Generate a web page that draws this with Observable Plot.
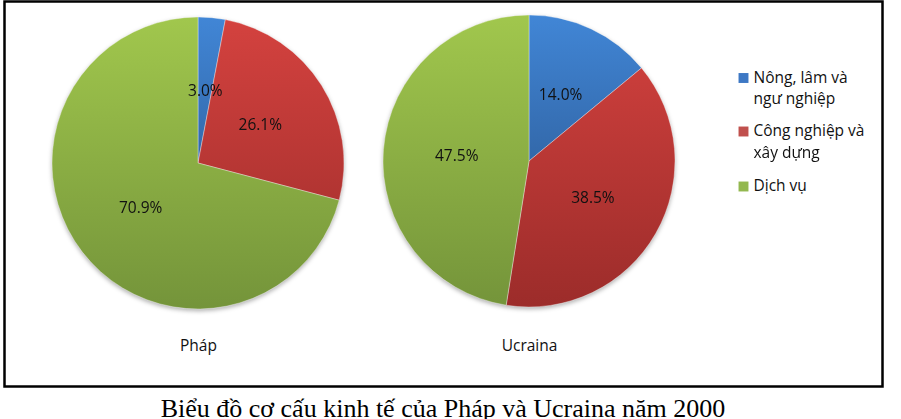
<!DOCTYPE html>
<html>
<head>
<meta charset="utf-8">
<script src="https://cdn.jsdelivr.net/npm/d3@7"></script>
<script src="https://cdn.jsdelivr.net/npm/@observablehq/plot@0.6"></script>
<style>
  html, body { margin: 0; padding: 0; background: #fff; }
  #chart svg { display: block; }
  #caption {
    width: 901px; box-sizing: border-box; padding-right: 15px;
    margin-top: 6px; text-align: center; white-space: nowrap;
    font-family: "Liberation Serif", "Times New Roman", serif;
    font-size: 26px; line-height: 26px; color: #000;
  }
</style>
</head>
<body>
<div id="chart"></div>
<div id="caption">Biểu đồ cơ cấu kinh tế của Pháp và Ucraina năm 2000</div>
<script>
// ---- data ----
const countries = ["Pháp", "Ucraina"];
const sectors = ["Nông, lâm và ngư nghiệp", "Công nghiệp và xây dựng", "Dịch vụ"];
const phapValues = [3.0, 26.1, 70.9];
const ucrainaValues = [14.0, 38.5, 47.5];
const legendLabels = [["Nông, lâm và", "ngư nghiệp"], ["Công nghiệp và", "xây dựng"], ["Dịch vụ"]];

// ---- styles / layout ----
const sectorColors = ["#3d78c4", "#c0504d", "#93b84f"];
const gradientStops = [
  ["#4186d6", "#244a7d"],
  ["#d4423f", "#9c2c2a"],
  ["#a1c74d", "#74943a"]
];
const pieCenters = [[198, 163], [529, 161]];
const pieRadius = 146;
const countryLabelY = 346;
const legendX = 743, legendTextX = 753, legendY = [77.5, 131, 186], legendLineStep = 21.5;

// ---- derived tables ----
const valuesByCountry = [phapValues, ucrainaValues];
const pie = d3.pie().sort(null).value(d => d);
const slices = [];
countries.forEach((country, ci) => {
  const arcs = pie(valuesByCountry[ci]);
  arcs.forEach((a, si) => {
    const [dx, dy] = d3.arc().innerRadius(0).outerRadius(pieRadius).centroid(a);
    slices.push({
      country, sector: sectors[si], si, value: a.data,
      startAngle: a.startAngle, endAngle: a.endAngle,
      cx: pieCenters[ci][0], cy: pieCenters[ci][1],
      lx: pieCenters[ci][0] + dx, ly: pieCenters[ci][1] + dy
    });
  });
});
const countryRows = countries.map((c, i) => ({country: c, x: pieCenters[i][0], y: countryLabelY}));
const legendItems = sectors.map((s, i) => ({sector: s, color: sectorColors[i], x: legendX, y: legendY[i]}));
const legendTextRows = legendLabels.flatMap((lines, i) =>
  lines.map((t, j) => ({text: t, x: legendTextX, y: legendY[i] + j * legendLineStep})));

function renderPie(index, scales, values) {
  const g = d3.create("svg:g").attr("style", "filter: drop-shadow(0px 2px 2px rgba(0,0,0,0.3))");
  const defs = g.append("defs");
  const R = scales.x(slices[0].cx + pieRadius) - scales.x(slices[0].cx);
  gradientStops.forEach((st, k) => {
    const lg = defs.append("linearGradient").attr("id", "grad" + k)
      .attr("gradientUnits", "userSpaceOnUse")
      .attr("x1", 0).attr("x2", 0).attr("y1", -R).attr("y2", R);
    lg.append("stop").attr("offset", "0%").attr("stop-color", st[0]);
    lg.append("stop").attr("offset", "100%").attr("stop-color", st[1]);
  });
  const arc = d3.arc().innerRadius(0).outerRadius(R);
  for (const i of index) {
    const d = slices[i];
    g.append("path")
      .attr("transform", `translate(${values.x[i]},${values.y[i]})`)
      .attr("d", arc({startAngle: d.startAngle, endAngle: d.endAngle}))
      .attr("fill", `url(#grad${d.si})`)
      .attr("stroke", "rgba(255,255,255,0.35)")
      .attr("stroke-width", 1);
  }
  return g.node();
}

const chart = Plot.plot({
  width: 901,
  height: 390,
  marginLeft: 4, marginTop: 1, marginRight: 19, marginBottom: 4,
  x: {type: "linear", domain: [0, 901], range: [0, 901], axis: null},
  y: {type: "linear", domain: [0, 390], range: [0, 390], axis: null},
  style: {fontFamily: "'Open Sans', sans-serif", background: "#fff", color: "#000"},
  marks: [
    Plot.frame({stroke: "#000", strokeWidth: 2.5}),
    Plot.dot(slices, {x: "cx", y: "cy", r: pieRadius, render: renderPie}),
    Plot.text(slices, {x: "lx", y: "ly", text: d => d.value.toFixed(1) + "%", fontSize: 15.5, fill: "#111"}),
    Plot.text(countryRows, {x: "x", y: "y", text: "country", fontSize: 15.5, fill: "#111"}),
    Plot.dot(legendItems, {x: "x", y: "y", symbol: "square", r: 5.6, fill: d => d.color}),
    Plot.text(legendTextRows, {x: "x", y: "y", text: "text", textAnchor: "start", fontSize: 15.5, fill: "#111"})
  ]
});
document.getElementById("chart").appendChild(chart);
</script>
</body>
</html>
